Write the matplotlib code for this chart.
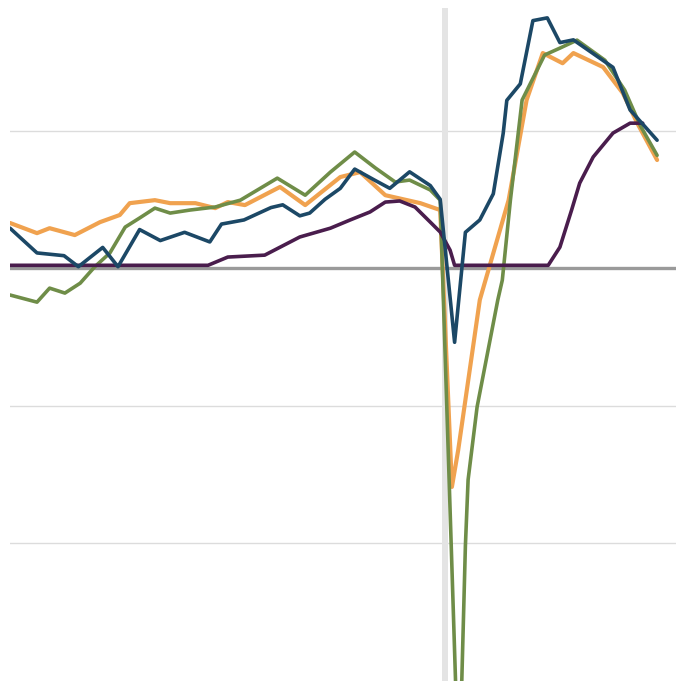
import numpy as np
from matplotlib import pyplot as plt

# values: x in months, y in percent
blue_x = [0, 3, 6, 7.6, 10.3, 12, 14.4, 16.7, 19.4, 22.2, 23.5, 26, 29, 30.3, 32.2, 33.3,
          35, 36.7, 38.3, 40.5, 42.2, 44.4, 46.7, 47.8, 49.4, 50.6, 52.2, 53.7, 54.8, 55.2,
          56.7, 58.1, 59.7, 61.1, 62.6, 67, 68.9, 71.9]
blue_y = [1.45, 0.55, 0.45, 0.05, 0.75, 0.05, 1.4, 1.0, 1.3, 0.95, 1.6, 1.75, 2.2, 2.3, 1.9, 2.0,
          2.5, 2.9, 3.6, 3.2, 2.9, 3.5, 3.0, 2.5, -2.7, 1.3, 1.75, 2.7, 4.9, 6.1,
          6.7, 9.0, 9.1, 8.2, 8.3, 7.3, 5.75, 4.65]

orange_x = [0, 3, 4.4, 7.2, 10, 12.2, 13.3, 16.1, 17.8, 20.6, 22.8, 24.2, 26.1, 30, 32.8,
            36.7, 38.9, 41.7, 45.6, 47.8, 49.1, 49.8, 50.6, 52.2, 55.4, 57.4, 59.2, 61.4,
            62.6, 65.9, 68.1, 69.7, 71.9]
orange_y = [1.64, 1.27, 1.45, 1.2, 1.67, 1.93, 2.36, 2.47, 2.36, 2.36, 2.18, 2.4, 2.29, 2.95, 2.29,
            3.31, 3.49, 2.65, 2.36, 2.11, -7.96, -6.62, -4.8, -1.16, 2.47, 6.11, 7.82, 7.45,
            7.82, 7.31, 6.36, 5.27, 3.93]

green_x = [0, 3, 4.4, 6.1, 7.8, 9.4, 11.1, 12.8, 14.4, 16.1, 17.8, 20, 22.8, 25.6, 29.7, 32.8,
           35.6, 38.3, 40.6, 42.8, 44.4, 46.7, 47.8, 49.6, 50.2, 50.6, 50.9, 51.9, 54.2, 54.7,
           55.6, 56.9, 59.4, 61.1, 63, 66.1, 68.3, 70, 71.9]
green_y = [-0.98, -1.24, -0.73, -0.91, -0.55, 0.04, 0.55, 1.49, 1.82, 2.18, 2.0, 2.11, 2.22, 2.47,
           3.27, 2.65, 3.49, 4.22, 3.64, 3.13, 3.2, 2.84, 2.47, -16.0, -15.0, -10.1, -7.7, -5.05,
           -1.16, -0.44, 2.47, 6.11, 7.75, 8.0, 8.29, 7.56, 6.47, 5.2, 4.1]

purple_x = [0, 22, 24.2, 28.3, 32.2, 35.6, 37.8, 40, 41.7, 43.3, 45, 46.7, 47.8, 48.9, 49.4,
            59.8, 61.1, 62.4, 63.3, 64.8, 67, 68.9, 70.3]
purple_y = [0.1, 0.1, 0.4, 0.47, 1.13, 1.45, 1.75, 2.04, 2.4, 2.44, 2.22, 1.67, 1.31, 0.65, 0.1,
            0.1, 0.76, 2.11, 3.09, 4.04, 4.91, 5.27, 5.27]

grid_vals = [-10, -5, 5]
event_month = 48.33

fig = plt.figure(figsize=(6.76, 6.81), dpi=100)
ax = fig.add_axes([10/676, 0, 1 - 10/676, 1])
ax.set_xlim(0, 74)
ax.set_ylim(-15.02, 9.75)
ax.axis("off")

for g in grid_vals:
    ax.axhline(g, color="#dcdcdc", lw=1.0, zorder=1)
ax.axvspan(event_month - 0.33, event_month + 0.33, ymax=(9.45 + 15.02) / 24.77,
           color="#e4e4e4", lw=0, zorder=1)
ax.axhline(0, color="#9a9a9a", lw=2.4, zorder=2)

kw = dict(solid_joinstyle="round", solid_capstyle="round", zorder=3)
ax.plot(orange_x, orange_y, color="#f0a24f", lw=3.0, **kw)
ax.plot(green_x, green_y, color="#6f8d48", lw=2.6, **kw)
ax.plot(purple_x, purple_y, color="#4a1d4d", lw=2.6, **kw)
ax.plot(blue_x, blue_y, color="#1c4866", lw=2.6, **kw)

plt.savefig("out.png", dpi=100)
